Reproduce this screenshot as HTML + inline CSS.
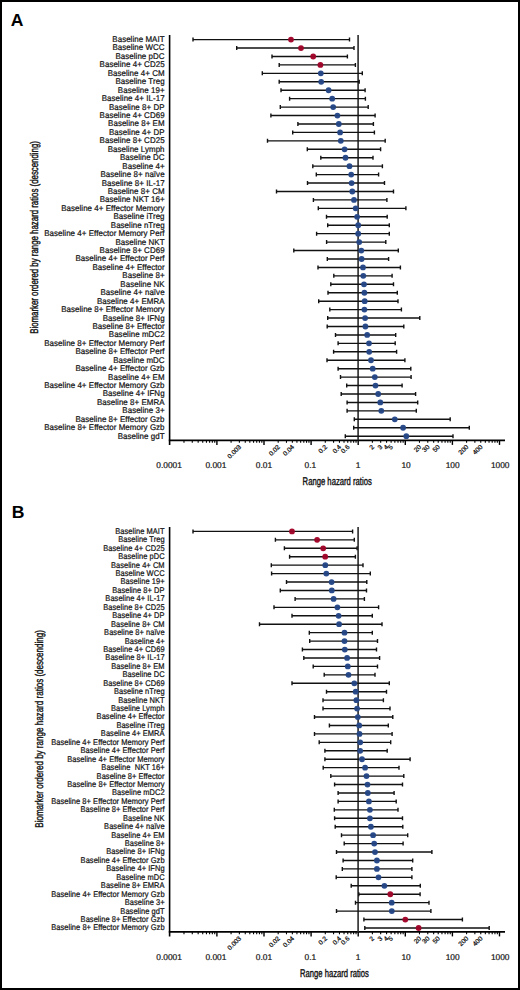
<!DOCTYPE html>
<html><head><meta charset="utf-8"><style>
html,body{margin:0;padding:0;background:#fff;}
body{width:520px;height:990px;position:relative;overflow:hidden;}
#frame{position:absolute;left:0;top:0;width:520px;height:990px;box-sizing:border-box;border:2px solid #000;}
svg{position:absolute;left:0;top:0;}
text{font-family:"Liberation Sans",sans-serif;fill:#1a1a1a;text-rendering:geometricPrecision;}
.lt{font-weight:bold;font-size:17.6px;fill:#000;}
.lb{text-anchor:end;fill:#111;stroke:#111;stroke-width:0.22px;}
.dl{font-size:8.4px;text-anchor:middle;fill:#111;stroke:#111;stroke-width:0.2px;}
.ml{font-size:6.5px;text-anchor:end;fill:#111;stroke:#111;stroke-width:0.25px;}
.tt{font-size:11.2px;fill:#111;stroke:#111;stroke-width:0.4px;}
.ax{stroke:#000;fill:none;}
.wk{stroke:#111;stroke-width:1.4;fill:none;}
</style></head><body>
<div id="frame"></div>
<svg width="520" height="990" viewBox="0 0 520 990">
<text x="10.8" y="26.2" class="lt">A</text>
<g transform="translate(164.6,0) scale(0.955,1)" style="font-size:8.3px;letter-spacing:0.06px">
<text x="0" y="42.05" class="lb">Baseline MAIT</text>
<text x="0" y="50.49" class="lb">Baseline WCC</text>
<text x="0" y="58.93" class="lb">Baseline pDC</text>
<text x="0" y="67.36" class="lb">Baseline 4+ CD25</text>
<text x="0" y="75.80" class="lb">Baseline 4+ CM</text>
<text x="0" y="84.24" class="lb">Baseline Treg</text>
<text x="0" y="92.68" class="lb">Baseline 19+</text>
<text x="0" y="101.12" class="lb">Baseline 4+ IL-17</text>
<text x="0" y="109.55" class="lb">Baseline 8+ DP</text>
<text x="0" y="117.99" class="lb">Baseline 4+ CD69</text>
<text x="0" y="126.43" class="lb">Baseline 8+ EM</text>
<text x="0" y="134.87" class="lb">Baseline 4+ DP</text>
<text x="0" y="143.31" class="lb">Baseline 8+ CD25</text>
<text x="0" y="151.74" class="lb">Baseline Lymph</text>
<text x="0" y="160.18" class="lb">Baseline DC</text>
<text x="0" y="168.62" class="lb">Baseline 4+</text>
<text x="0" y="177.06" class="lb">Baseline 8+ naïve</text>
<text x="0" y="185.50" class="lb">Baseline 8+ IL-17</text>
<text x="0" y="193.93" class="lb">Baseline 8+ CM</text>
<text x="0" y="202.37" class="lb">Baseline NKT 16+</text>
<text x="0" y="210.81" class="lb">Baseline 4+ Effector Memory</text>
<text x="0" y="219.25" class="lb">Baseline iTreg</text>
<text x="0" y="227.69" class="lb">Baseline nTreg</text>
<text x="0" y="236.12" class="lb">Baseline 4+ Effector Memory Perf</text>
<text x="0" y="244.56" class="lb">Baseline NKT</text>
<text x="0" y="253.00" class="lb">Baseline 8+ CD69</text>
<text x="0" y="261.44" class="lb">Baseline 4+ Effector Perf</text>
<text x="0" y="269.88" class="lb">Baseline 4+ Effector</text>
<text x="0" y="278.31" class="lb">Baseline 8+</text>
<text x="0" y="286.75" class="lb">Baseline NK</text>
<text x="0" y="295.19" class="lb">Baseline 4+ naïve</text>
<text x="0" y="303.63" class="lb">Baseline 4+ EMRA</text>
<text x="0" y="312.07" class="lb">Baseline 8+ Effector Memory</text>
<text x="0" y="320.50" class="lb">Baseline 8+ IFNg</text>
<text x="0" y="328.94" class="lb">Baseline 8+ Effector</text>
<text x="0" y="337.38" class="lb">Baseline mDC2</text>
<text x="0" y="345.82" class="lb">Baseline 8+ Effector Memory Perf</text>
<text x="0" y="354.26" class="lb">Baseline 8+ Effector Perf</text>
<text x="0" y="362.69" class="lb">Baseline mDC</text>
<text x="0" y="371.13" class="lb">Baseline 4+ Effector Gzb</text>
<text x="0" y="379.57" class="lb">Baseline 4+ EM</text>
<text x="0" y="388.01" class="lb">Baseline 4+ Effector Memory Gzb</text>
<text x="0" y="396.45" class="lb">Baseline 4+ IFNg</text>
<text x="0" y="404.88" class="lb">Baseline 8+ EMRA</text>
<text x="0" y="413.32" class="lb">Baseline 3+</text>
<text x="0" y="421.76" class="lb">Baseline 8+ Effector Gzb</text>
<text x="0" y="430.20" class="lb">Baseline 8+ Effector Memory Gzb</text>
<text x="0" y="438.64" class="lb">Baseline gdT</text>
</g>
<line x1="169.6" y1="35.0" x2="169.6" y2="444.9" class="ax" style="stroke-width:1.6"/>
<line x1="168.8" y1="440.4" x2="505" y2="440.4" class="ax" style="stroke-width:1.8"/>
<line x1="358.1" y1="35.0" x2="358.1" y2="440.4" class="ax" style="stroke-width:1.6;stroke:#2a2a2a"/>
<line x1="183.98" y1="440.4" x2="183.98" y2="442.79999999999995" class="ax" style="stroke-width:1.1"/>
<line x1="192.27" y1="440.4" x2="192.27" y2="442.79999999999995" class="ax" style="stroke-width:1.1"/>
<line x1="198.16" y1="440.4" x2="198.16" y2="442.79999999999995" class="ax" style="stroke-width:1.1"/>
<line x1="202.72" y1="440.4" x2="202.72" y2="442.79999999999995" class="ax" style="stroke-width:1.1"/>
<line x1="206.45" y1="440.4" x2="206.45" y2="442.79999999999995" class="ax" style="stroke-width:1.1"/>
<line x1="209.60" y1="440.4" x2="209.60" y2="442.79999999999995" class="ax" style="stroke-width:1.1"/>
<line x1="212.34" y1="440.4" x2="212.34" y2="442.79999999999995" class="ax" style="stroke-width:1.1"/>
<line x1="214.74" y1="440.4" x2="214.74" y2="442.79999999999995" class="ax" style="stroke-width:1.1"/>
<line x1="216.90" y1="440.4" x2="216.90" y2="444.9" class="ax" style="stroke-width:1.4"/>
<line x1="231.08" y1="440.4" x2="231.08" y2="442.79999999999995" class="ax" style="stroke-width:1.1"/>
<line x1="239.37" y1="440.4" x2="239.37" y2="442.79999999999995" class="ax" style="stroke-width:1.1"/>
<line x1="245.26" y1="440.4" x2="245.26" y2="442.79999999999995" class="ax" style="stroke-width:1.1"/>
<line x1="249.82" y1="440.4" x2="249.82" y2="442.79999999999995" class="ax" style="stroke-width:1.1"/>
<line x1="253.55" y1="440.4" x2="253.55" y2="442.79999999999995" class="ax" style="stroke-width:1.1"/>
<line x1="256.70" y1="440.4" x2="256.70" y2="442.79999999999995" class="ax" style="stroke-width:1.1"/>
<line x1="259.44" y1="440.4" x2="259.44" y2="442.79999999999995" class="ax" style="stroke-width:1.1"/>
<line x1="261.84" y1="440.4" x2="261.84" y2="442.79999999999995" class="ax" style="stroke-width:1.1"/>
<line x1="264.00" y1="440.4" x2="264.00" y2="444.9" class="ax" style="stroke-width:1.4"/>
<line x1="278.18" y1="440.4" x2="278.18" y2="442.79999999999995" class="ax" style="stroke-width:1.1"/>
<line x1="286.47" y1="440.4" x2="286.47" y2="442.79999999999995" class="ax" style="stroke-width:1.1"/>
<line x1="292.36" y1="440.4" x2="292.36" y2="442.79999999999995" class="ax" style="stroke-width:1.1"/>
<line x1="296.92" y1="440.4" x2="296.92" y2="442.79999999999995" class="ax" style="stroke-width:1.1"/>
<line x1="300.65" y1="440.4" x2="300.65" y2="442.79999999999995" class="ax" style="stroke-width:1.1"/>
<line x1="303.80" y1="440.4" x2="303.80" y2="442.79999999999995" class="ax" style="stroke-width:1.1"/>
<line x1="306.54" y1="440.4" x2="306.54" y2="442.79999999999995" class="ax" style="stroke-width:1.1"/>
<line x1="308.94" y1="440.4" x2="308.94" y2="442.79999999999995" class="ax" style="stroke-width:1.1"/>
<line x1="311.10" y1="440.4" x2="311.10" y2="444.9" class="ax" style="stroke-width:1.4"/>
<line x1="325.28" y1="440.4" x2="325.28" y2="442.79999999999995" class="ax" style="stroke-width:1.1"/>
<line x1="333.57" y1="440.4" x2="333.57" y2="442.79999999999995" class="ax" style="stroke-width:1.1"/>
<line x1="339.46" y1="440.4" x2="339.46" y2="442.79999999999995" class="ax" style="stroke-width:1.1"/>
<line x1="344.02" y1="440.4" x2="344.02" y2="442.79999999999995" class="ax" style="stroke-width:1.1"/>
<line x1="347.75" y1="440.4" x2="347.75" y2="442.79999999999995" class="ax" style="stroke-width:1.1"/>
<line x1="350.90" y1="440.4" x2="350.90" y2="442.79999999999995" class="ax" style="stroke-width:1.1"/>
<line x1="353.64" y1="440.4" x2="353.64" y2="442.79999999999995" class="ax" style="stroke-width:1.1"/>
<line x1="356.04" y1="440.4" x2="356.04" y2="442.79999999999995" class="ax" style="stroke-width:1.1"/>
<line x1="358.20" y1="440.4" x2="358.20" y2="444.9" class="ax" style="stroke-width:1.4"/>
<line x1="372.38" y1="440.4" x2="372.38" y2="442.79999999999995" class="ax" style="stroke-width:1.1"/>
<line x1="380.67" y1="440.4" x2="380.67" y2="442.79999999999995" class="ax" style="stroke-width:1.1"/>
<line x1="386.56" y1="440.4" x2="386.56" y2="442.79999999999995" class="ax" style="stroke-width:1.1"/>
<line x1="391.12" y1="440.4" x2="391.12" y2="442.79999999999995" class="ax" style="stroke-width:1.1"/>
<line x1="394.85" y1="440.4" x2="394.85" y2="442.79999999999995" class="ax" style="stroke-width:1.1"/>
<line x1="398.00" y1="440.4" x2="398.00" y2="442.79999999999995" class="ax" style="stroke-width:1.1"/>
<line x1="400.74" y1="440.4" x2="400.74" y2="442.79999999999995" class="ax" style="stroke-width:1.1"/>
<line x1="403.14" y1="440.4" x2="403.14" y2="442.79999999999995" class="ax" style="stroke-width:1.1"/>
<line x1="405.30" y1="440.4" x2="405.30" y2="444.9" class="ax" style="stroke-width:1.4"/>
<line x1="419.48" y1="440.4" x2="419.48" y2="442.79999999999995" class="ax" style="stroke-width:1.1"/>
<line x1="427.77" y1="440.4" x2="427.77" y2="442.79999999999995" class="ax" style="stroke-width:1.1"/>
<line x1="433.66" y1="440.4" x2="433.66" y2="442.79999999999995" class="ax" style="stroke-width:1.1"/>
<line x1="438.22" y1="440.4" x2="438.22" y2="442.79999999999995" class="ax" style="stroke-width:1.1"/>
<line x1="441.95" y1="440.4" x2="441.95" y2="442.79999999999995" class="ax" style="stroke-width:1.1"/>
<line x1="445.10" y1="440.4" x2="445.10" y2="442.79999999999995" class="ax" style="stroke-width:1.1"/>
<line x1="447.84" y1="440.4" x2="447.84" y2="442.79999999999995" class="ax" style="stroke-width:1.1"/>
<line x1="450.24" y1="440.4" x2="450.24" y2="442.79999999999995" class="ax" style="stroke-width:1.1"/>
<line x1="452.40" y1="440.4" x2="452.40" y2="444.9" class="ax" style="stroke-width:1.4"/>
<line x1="466.58" y1="440.4" x2="466.58" y2="442.79999999999995" class="ax" style="stroke-width:1.1"/>
<line x1="474.87" y1="440.4" x2="474.87" y2="442.79999999999995" class="ax" style="stroke-width:1.1"/>
<line x1="480.76" y1="440.4" x2="480.76" y2="442.79999999999995" class="ax" style="stroke-width:1.1"/>
<line x1="485.32" y1="440.4" x2="485.32" y2="442.79999999999995" class="ax" style="stroke-width:1.1"/>
<line x1="489.05" y1="440.4" x2="489.05" y2="442.79999999999995" class="ax" style="stroke-width:1.1"/>
<line x1="492.20" y1="440.4" x2="492.20" y2="442.79999999999995" class="ax" style="stroke-width:1.1"/>
<line x1="494.94" y1="440.4" x2="494.94" y2="442.79999999999995" class="ax" style="stroke-width:1.1"/>
<line x1="497.34" y1="440.4" x2="497.34" y2="442.79999999999995" class="ax" style="stroke-width:1.1"/>
<line x1="499.50" y1="440.4" x2="499.50" y2="444.9" class="ax" style="stroke-width:1.4"/>
<text x="169.10" y="468.30" class="dl">0.0001</text>
<text x="215.90" y="468.30" class="dl">0.001</text>
<text x="263.90" y="468.30" class="dl">0.01</text>
<text x="310.30" y="468.30" class="dl">0.1</text>
<text x="358.10" y="468.30" class="dl">1</text>
<text x="406.10" y="468.30" class="dl">10</text>
<text x="452.70" y="468.30" class="dl">100</text>
<text x="500.20" y="468.30" class="dl">1000</text>
<text transform="translate(241.57,447.40) rotate(-45)" class="ml">0.003</text>
<text transform="translate(280.38,447.40) rotate(-45)" class="ml">0.02</text>
<text transform="translate(294.56,447.40) rotate(-45)" class="ml">0.04</text>
<text transform="translate(327.48,447.40) rotate(-45)" class="ml">0.2</text>
<text transform="translate(341.66,447.40) rotate(-45)" class="ml">0.4</text>
<text transform="translate(349.95,447.40) rotate(-45)" class="ml">0.6</text>
<text transform="translate(374.58,447.40) rotate(-45)" class="ml">2</text>
<text transform="translate(382.87,447.40) rotate(-45)" class="ml">3</text>
<text transform="translate(388.76,447.40) rotate(-45)" class="ml">4</text>
<text transform="translate(393.32,447.40) rotate(-45)" class="ml">5</text>
<text transform="translate(421.68,447.40) rotate(-45)" class="ml">20</text>
<text transform="translate(429.97,447.40) rotate(-45)" class="ml">30</text>
<text transform="translate(440.42,447.40) rotate(-45)" class="ml">50</text>
<text transform="translate(468.78,447.40) rotate(-45)" class="ml">200</text>
<text transform="translate(482.96,447.40) rotate(-45)" class="ml">400</text>
<text x="302.6" y="484.5" class="tt" textLength="69.2" lengthAdjust="spacingAndGlyphs">Range hazard ratios</text>
<text transform="translate(37.5,333.8) rotate(-90)" class="tt" textLength="192.70000000000002" lengthAdjust="spacingAndGlyphs">Biomarker ordered by range hazard ratios (descending)</text>
<path d="M193.0 39.60H349.5M193.0 37.60V41.60M349.5 37.60V41.60" class="wk"/>
<path d="M236.7 48.04H354.0M236.7 46.04V50.04M354.0 46.04V50.04" class="wk"/>
<path d="M272.0 56.48H347.4M272.0 54.48V58.48M347.4 54.48V58.48" class="wk"/>
<path d="M279.2 64.91H355.4M279.2 62.91V66.91M355.4 62.91V66.91" class="wk"/>
<path d="M262.3 73.35H362.3M262.3 71.35V75.35M362.3 71.35V75.35" class="wk"/>
<path d="M279.2 81.79H359.2M279.2 79.79V83.79M359.2 79.79V83.79" class="wk"/>
<path d="M281.0 90.23H365.1M281.0 88.23V92.23M365.1 88.23V92.23" class="wk"/>
<path d="M289.6 98.67H365.4M289.6 96.67V100.67M365.4 96.67V100.67" class="wk"/>
<path d="M280.3 107.10H368.2M280.3 105.10V109.10M368.2 105.10V109.10" class="wk"/>
<path d="M270.9 115.54H375.1M270.9 113.54V117.54M375.1 113.54V117.54" class="wk"/>
<path d="M297.9 123.98H373.4M297.9 121.98V125.98M373.4 121.98V125.98" class="wk"/>
<path d="M292.7 132.42H374.4M292.7 130.42V134.42M374.4 130.42V134.42" class="wk"/>
<path d="M267.5 140.86H385.2M267.5 138.86V142.86M385.2 138.86V142.86" class="wk"/>
<path d="M307.3 149.29H380.6M307.3 147.29V151.29M380.6 147.29V151.29" class="wk"/>
<path d="M320.8 157.73H373.0M320.8 155.73V159.73M373.0 155.73V159.73" class="wk"/>
<path d="M312.8 166.17H382.4M312.8 164.17V168.17M382.4 164.17V168.17" class="wk"/>
<path d="M316.3 174.61H378.6M316.3 172.61V176.61M378.6 172.61V176.61" class="wk"/>
<path d="M307.5 183.05H384.5M307.5 181.05V185.05M384.5 181.05V185.05" class="wk"/>
<path d="M276.5 191.48H393.5M276.5 189.48V193.48M393.5 189.48V193.48" class="wk"/>
<path d="M313.4 199.92H386.9M313.4 197.92V201.92M386.9 197.92V201.92" class="wk"/>
<path d="M318.3 208.36H405.9M318.3 206.36V210.36M405.9 206.36V210.36" class="wk"/>
<path d="M326.5 216.80H387.2M326.5 214.80V218.80M387.2 214.80V218.80" class="wk"/>
<path d="M327.7 225.24H389.3M327.7 223.24V227.24M389.3 223.24V227.24" class="wk"/>
<path d="M316.6 233.67H389.3M316.6 231.67V235.67M389.3 231.67V235.67" class="wk"/>
<path d="M326.6 242.11H385.8M326.6 240.11V244.11M385.8 240.11V244.11" class="wk"/>
<path d="M293.8 250.55H398.3M293.8 248.55V252.55M398.3 248.55V252.55" class="wk"/>
<path d="M327.3 258.99H388.6M327.3 256.99V260.99M388.6 256.99V260.99" class="wk"/>
<path d="M318.0 267.43H400.4M318.0 265.43V269.43M400.4 265.43V269.43" class="wk"/>
<path d="M333.8 275.86H392.1M333.8 273.86V277.86M392.1 273.86V277.86" class="wk"/>
<path d="M330.8 284.30H393.5M330.8 282.30V286.30M393.5 282.30V286.30" class="wk"/>
<path d="M328.0 292.74H397.3M328.0 290.74V294.74M397.3 290.74V294.74" class="wk"/>
<path d="M318.7 301.18H398.0M318.7 299.18V303.18M398.0 299.18V303.18" class="wk"/>
<path d="M329.8 309.62H401.4M329.8 307.62V311.62M401.4 307.62V311.62" class="wk"/>
<path d="M327.7 318.05H419.8M327.7 316.05V320.05M419.8 316.05V320.05" class="wk"/>
<path d="M327.2 326.49H403.8M327.2 324.49V328.49M403.8 324.49V328.49" class="wk"/>
<path d="M335.5 334.93H395.7M335.5 332.93V336.93M395.7 332.93V336.93" class="wk"/>
<path d="M338.1 343.37H395.2M338.1 341.37V345.37M395.2 341.37V345.37" class="wk"/>
<path d="M333.6 351.81H396.6M333.6 349.81V353.81M396.6 349.81V353.81" class="wk"/>
<path d="M327.0 360.24H404.9M327.0 358.24V362.24M404.9 358.24V362.24" class="wk"/>
<path d="M338.1 368.68H410.8M338.1 366.68V370.68M410.8 366.68V370.68" class="wk"/>
<path d="M340.5 377.12H411.1M340.5 375.12V379.12M411.1 375.12V379.12" class="wk"/>
<path d="M346.7 385.56H402.1M346.7 383.56V387.56M402.1 383.56V387.56" class="wk"/>
<path d="M341.2 394.00H415.6M341.2 392.00V396.00M415.6 392.00V396.00" class="wk"/>
<path d="M347.1 402.43H417.7M347.1 400.43V404.43M417.7 400.43V404.43" class="wk"/>
<path d="M347.1 410.87H416.3M347.1 408.87V412.87M416.3 408.87V412.87" class="wk"/>
<path d="M354.3 419.31H450.2M354.3 417.31V421.31M450.2 417.31V421.31" class="wk"/>
<path d="M353.7 427.75H469.3M353.7 425.75V429.75M469.3 425.75V429.75" class="wk"/>
<path d="M345.3 436.19H453.0M345.3 434.19V438.19M453.0 434.19V438.19" class="wk"/>
<circle cx="291.0" cy="39.60" r="2.9" fill="#a60a2e"/>
<path d="M288.1 39.60H293.9" stroke="#000" stroke-opacity="0.13" stroke-width="1.2"/>
<circle cx="301.0" cy="48.04" r="2.9" fill="#a60a2e"/>
<path d="M298.1 48.04H303.9" stroke="#000" stroke-opacity="0.13" stroke-width="1.2"/>
<circle cx="313.2" cy="56.48" r="2.9" fill="#a60a2e"/>
<path d="M310.3 56.48H316.1" stroke="#000" stroke-opacity="0.13" stroke-width="1.2"/>
<circle cx="320.4" cy="64.91" r="2.9" fill="#a60a2e"/>
<path d="M317.5 64.91H323.3" stroke="#000" stroke-opacity="0.13" stroke-width="1.2"/>
<circle cx="320.8" cy="73.35" r="2.9" fill="#2a4c8c"/>
<path d="M317.9 73.35H323.7" stroke="#000" stroke-opacity="0.13" stroke-width="1.2"/>
<circle cx="321.2" cy="81.79" r="2.9" fill="#2a4c8c"/>
<path d="M318.3 81.79H324.1" stroke="#000" stroke-opacity="0.13" stroke-width="1.2"/>
<circle cx="328.6" cy="90.23" r="2.9" fill="#2a4c8c"/>
<path d="M325.7 90.23H331.5" stroke="#000" stroke-opacity="0.13" stroke-width="1.2"/>
<circle cx="332.2" cy="98.67" r="2.9" fill="#2a4c8c"/>
<path d="M329.3 98.67H335.1" stroke="#000" stroke-opacity="0.13" stroke-width="1.2"/>
<circle cx="333.2" cy="107.10" r="2.9" fill="#2a4c8c"/>
<path d="M330.3 107.10H336.1" stroke="#000" stroke-opacity="0.13" stroke-width="1.2"/>
<circle cx="337.4" cy="115.54" r="2.9" fill="#2a4c8c"/>
<path d="M334.5 115.54H340.3" stroke="#000" stroke-opacity="0.13" stroke-width="1.2"/>
<circle cx="338.8" cy="123.98" r="2.9" fill="#2a4c8c"/>
<path d="M335.9 123.98H341.7" stroke="#000" stroke-opacity="0.13" stroke-width="1.2"/>
<circle cx="340.1" cy="132.42" r="2.9" fill="#2a4c8c"/>
<path d="M337.2 132.42H343.0" stroke="#000" stroke-opacity="0.13" stroke-width="1.2"/>
<circle cx="340.8" cy="140.86" r="2.9" fill="#2a4c8c"/>
<path d="M337.9 140.86H343.7" stroke="#000" stroke-opacity="0.13" stroke-width="1.2"/>
<circle cx="344.6" cy="149.29" r="2.9" fill="#2a4c8c"/>
<path d="M341.7 149.29H347.5" stroke="#000" stroke-opacity="0.13" stroke-width="1.2"/>
<circle cx="345.5" cy="157.73" r="2.9" fill="#2a4c8c"/>
<path d="M342.6 157.73H348.4" stroke="#000" stroke-opacity="0.13" stroke-width="1.2"/>
<circle cx="349.5" cy="166.17" r="2.9" fill="#2a4c8c"/>
<path d="M346.6 166.17H352.4" stroke="#000" stroke-opacity="0.13" stroke-width="1.2"/>
<circle cx="351.2" cy="174.61" r="2.9" fill="#2a4c8c"/>
<path d="M348.3 174.61H354.1" stroke="#000" stroke-opacity="0.13" stroke-width="1.2"/>
<circle cx="351.6" cy="183.05" r="2.9" fill="#2a4c8c"/>
<path d="M348.7 183.05H354.5" stroke="#000" stroke-opacity="0.13" stroke-width="1.2"/>
<circle cx="352.3" cy="191.48" r="2.9" fill="#2a4c8c"/>
<path d="M349.4 191.48H355.2" stroke="#000" stroke-opacity="0.13" stroke-width="1.2"/>
<circle cx="354.0" cy="199.92" r="2.9" fill="#2a4c8c"/>
<path d="M351.1 199.92H356.9" stroke="#000" stroke-opacity="0.13" stroke-width="1.2"/>
<circle cx="355.7" cy="208.36" r="2.9" fill="#2a4c8c"/>
<path d="M352.8 208.36H358.6" stroke="#000" stroke-opacity="0.13" stroke-width="1.2"/>
<circle cx="357.1" cy="216.80" r="2.9" fill="#2a4c8c"/>
<path d="M354.2 216.80H360.0" stroke="#000" stroke-opacity="0.13" stroke-width="1.2"/>
<circle cx="358.2" cy="225.24" r="2.9" fill="#2a4c8c"/>
<path d="M355.3 225.24H361.1" stroke="#000" stroke-opacity="0.13" stroke-width="1.2"/>
<circle cx="358.2" cy="233.67" r="2.9" fill="#2a4c8c"/>
<path d="M355.3 233.67H361.1" stroke="#000" stroke-opacity="0.13" stroke-width="1.2"/>
<circle cx="359.2" cy="242.11" r="2.9" fill="#2a4c8c"/>
<path d="M356.3 242.11H362.1" stroke="#000" stroke-opacity="0.13" stroke-width="1.2"/>
<circle cx="361.3" cy="250.55" r="2.9" fill="#2a4c8c"/>
<path d="M358.4 250.55H364.2" stroke="#000" stroke-opacity="0.13" stroke-width="1.2"/>
<circle cx="361.6" cy="258.99" r="2.9" fill="#2a4c8c"/>
<path d="M358.7 258.99H364.5" stroke="#000" stroke-opacity="0.13" stroke-width="1.2"/>
<circle cx="363.0" cy="267.43" r="2.9" fill="#2a4c8c"/>
<path d="M360.1 267.43H365.9" stroke="#000" stroke-opacity="0.13" stroke-width="1.2"/>
<circle cx="363.3" cy="275.86" r="2.9" fill="#2a4c8c"/>
<path d="M360.4 275.86H366.2" stroke="#000" stroke-opacity="0.13" stroke-width="1.2"/>
<circle cx="364.0" cy="284.30" r="2.9" fill="#2a4c8c"/>
<path d="M361.1 284.30H366.9" stroke="#000" stroke-opacity="0.13" stroke-width="1.2"/>
<circle cx="364.4" cy="292.74" r="2.9" fill="#2a4c8c"/>
<path d="M361.5 292.74H367.3" stroke="#000" stroke-opacity="0.13" stroke-width="1.2"/>
<circle cx="364.7" cy="301.18" r="2.9" fill="#2a4c8c"/>
<path d="M361.8 301.18H367.6" stroke="#000" stroke-opacity="0.13" stroke-width="1.2"/>
<circle cx="364.4" cy="309.62" r="2.9" fill="#2a4c8c"/>
<path d="M361.5 309.62H367.3" stroke="#000" stroke-opacity="0.13" stroke-width="1.2"/>
<circle cx="365.1" cy="318.05" r="2.9" fill="#2a4c8c"/>
<path d="M362.2 318.05H368.0" stroke="#000" stroke-opacity="0.13" stroke-width="1.2"/>
<circle cx="365.4" cy="326.49" r="2.9" fill="#2a4c8c"/>
<path d="M362.5 326.49H368.3" stroke="#000" stroke-opacity="0.13" stroke-width="1.2"/>
<circle cx="367.2" cy="334.93" r="2.9" fill="#2a4c8c"/>
<path d="M364.3 334.93H370.1" stroke="#000" stroke-opacity="0.13" stroke-width="1.2"/>
<circle cx="369.0" cy="343.37" r="2.9" fill="#2a4c8c"/>
<path d="M366.1 343.37H371.9" stroke="#000" stroke-opacity="0.13" stroke-width="1.2"/>
<circle cx="369.2" cy="351.81" r="2.9" fill="#2a4c8c"/>
<path d="M366.3 351.81H372.1" stroke="#000" stroke-opacity="0.13" stroke-width="1.2"/>
<circle cx="371.0" cy="360.24" r="2.9" fill="#2a4c8c"/>
<path d="M368.1 360.24H373.9" stroke="#000" stroke-opacity="0.13" stroke-width="1.2"/>
<circle cx="372.7" cy="368.68" r="2.9" fill="#2a4c8c"/>
<path d="M369.8 368.68H375.6" stroke="#000" stroke-opacity="0.13" stroke-width="1.2"/>
<circle cx="374.8" cy="377.12" r="2.9" fill="#2a4c8c"/>
<path d="M371.9 377.12H377.7" stroke="#000" stroke-opacity="0.13" stroke-width="1.2"/>
<circle cx="375.5" cy="385.56" r="2.9" fill="#2a4c8c"/>
<path d="M372.6 385.56H378.4" stroke="#000" stroke-opacity="0.13" stroke-width="1.2"/>
<circle cx="378.2" cy="394.00" r="2.9" fill="#2a4c8c"/>
<path d="M375.3 394.00H381.1" stroke="#000" stroke-opacity="0.13" stroke-width="1.2"/>
<circle cx="380.3" cy="402.43" r="2.9" fill="#2a4c8c"/>
<path d="M377.4 402.43H383.2" stroke="#000" stroke-opacity="0.13" stroke-width="1.2"/>
<circle cx="381.3" cy="410.87" r="2.9" fill="#2a4c8c"/>
<path d="M378.4 410.87H384.2" stroke="#000" stroke-opacity="0.13" stroke-width="1.2"/>
<circle cx="394.8" cy="419.31" r="2.9" fill="#2a4c8c"/>
<path d="M391.9 419.31H397.7" stroke="#000" stroke-opacity="0.13" stroke-width="1.2"/>
<circle cx="403.1" cy="427.75" r="2.9" fill="#2a4c8c"/>
<path d="M400.2 427.75H406.0" stroke="#000" stroke-opacity="0.13" stroke-width="1.2"/>
<circle cx="406.3" cy="436.19" r="2.9" fill="#2a4c8c"/>
<path d="M403.4 436.19H409.2" stroke="#000" stroke-opacity="0.13" stroke-width="1.2"/>
<text x="11.8" y="517.7" class="lt">B</text>
<g transform="translate(164.6,0) scale(0.9,1)" style="font-size:8.3px;letter-spacing:0.06px">
<text x="0" y="533.85" class="lb">Baseline MAIT</text>
<text x="0" y="542.29" class="lb">Baseline Treg</text>
<text x="0" y="550.73" class="lb">Baseline 4+ CD25</text>
<text x="0" y="559.16" class="lb">Baseline pDC</text>
<text x="0" y="567.60" class="lb">Baseline 4+ CM</text>
<text x="0" y="576.04" class="lb">Baseline WCC</text>
<text x="0" y="584.48" class="lb">Baseline 19+</text>
<text x="0" y="592.92" class="lb">Baseline 8+ DP</text>
<text x="0" y="601.35" class="lb">Baseline 4+ IL-17</text>
<text x="0" y="609.79" class="lb">Baseline 8+ CD25</text>
<text x="0" y="618.23" class="lb">Baseline 4+ DP</text>
<text x="0" y="626.67" class="lb">Baseline 8+ CM</text>
<text x="0" y="635.11" class="lb">Baseline 8+ naïve</text>
<text x="0" y="643.54" class="lb">Baseline 4+</text>
<text x="0" y="651.98" class="lb">Baseline 4+ CD69</text>
<text x="0" y="660.42" class="lb">Baseline 8+ IL-17</text>
<text x="0" y="668.86" class="lb">Baseline 8+ EM</text>
<text x="0" y="677.30" class="lb">Baseline DC</text>
<text x="0" y="685.73" class="lb">Baseline 8+ CD69</text>
<text x="0" y="694.17" class="lb">Baseline nTreg</text>
<text x="0" y="702.61" class="lb">Baseline NKT</text>
<text x="0" y="711.05" class="lb">Baseline Lymph</text>
<text x="0" y="719.49" class="lb">Baseline 4+ Effector</text>
<text x="0" y="727.92" class="lb">Baseline iTreg</text>
<text x="0" y="736.36" class="lb">Baseline 4+ EMRA</text>
<text x="0" y="744.80" class="lb">Baseline 4+ Effector Memory Perf</text>
<text x="0" y="753.24" class="lb">Baseline 4+ Effector Perf</text>
<text x="0" y="761.68" class="lb">Baseline 4+ Effector Memory</text>
<text x="0" y="770.11" class="lb">Baseline  NKT 16+</text>
<text x="0" y="778.55" class="lb">Baseline 8+ Effector</text>
<text x="0" y="786.99" class="lb">Baseline 8+ Effector Memory</text>
<text x="0" y="795.43" class="lb">Baseline mDC2</text>
<text x="0" y="803.87" class="lb">Baseline 8+ Effector Memory Perf</text>
<text x="0" y="812.30" class="lb">Baseline 8+ Effector Perf</text>
<text x="0" y="820.74" class="lb">Baseline NK</text>
<text x="0" y="829.18" class="lb">Baseline 4+ naïve</text>
<text x="0" y="837.62" class="lb">Baseline 4+ EM</text>
<text x="0" y="846.06" class="lb">Baseline 8+</text>
<text x="0" y="854.49" class="lb">Baseline 8+ IFNg</text>
<text x="0" y="862.93" class="lb">Baseline 4+ Effector Gzb</text>
<text x="0" y="871.37" class="lb">Baseline 4+ IFNg</text>
<text x="0" y="879.81" class="lb">Baseline mDC</text>
<text x="0" y="888.25" class="lb">Baseline 8+ EMRA</text>
<text x="0" y="896.68" class="lb">Baseline 4+ Effector Memory Gzb</text>
<text x="0" y="905.12" class="lb">Baseline 3+</text>
<text x="0" y="913.56" class="lb">Baseline gdT</text>
<text x="0" y="922.00" class="lb">Baseline 8+ Effector Gzb</text>
<text x="0" y="930.44" class="lb">Baseline 8+ Effector Memory Gzb</text>
</g>
<line x1="169.6" y1="526.9" x2="169.6" y2="936.4" class="ax" style="stroke-width:1.6"/>
<line x1="168.8" y1="931.9" x2="505" y2="931.9" class="ax" style="stroke-width:1.8"/>
<line x1="358.1" y1="526.9" x2="358.1" y2="931.9" class="ax" style="stroke-width:1.6;stroke:#2a2a2a"/>
<line x1="183.98" y1="931.9" x2="183.98" y2="934.3" class="ax" style="stroke-width:1.1"/>
<line x1="192.27" y1="931.9" x2="192.27" y2="934.3" class="ax" style="stroke-width:1.1"/>
<line x1="198.16" y1="931.9" x2="198.16" y2="934.3" class="ax" style="stroke-width:1.1"/>
<line x1="202.72" y1="931.9" x2="202.72" y2="934.3" class="ax" style="stroke-width:1.1"/>
<line x1="206.45" y1="931.9" x2="206.45" y2="934.3" class="ax" style="stroke-width:1.1"/>
<line x1="209.60" y1="931.9" x2="209.60" y2="934.3" class="ax" style="stroke-width:1.1"/>
<line x1="212.34" y1="931.9" x2="212.34" y2="934.3" class="ax" style="stroke-width:1.1"/>
<line x1="214.74" y1="931.9" x2="214.74" y2="934.3" class="ax" style="stroke-width:1.1"/>
<line x1="216.90" y1="931.9" x2="216.90" y2="936.4" class="ax" style="stroke-width:1.4"/>
<line x1="231.08" y1="931.9" x2="231.08" y2="934.3" class="ax" style="stroke-width:1.1"/>
<line x1="239.37" y1="931.9" x2="239.37" y2="934.3" class="ax" style="stroke-width:1.1"/>
<line x1="245.26" y1="931.9" x2="245.26" y2="934.3" class="ax" style="stroke-width:1.1"/>
<line x1="249.82" y1="931.9" x2="249.82" y2="934.3" class="ax" style="stroke-width:1.1"/>
<line x1="253.55" y1="931.9" x2="253.55" y2="934.3" class="ax" style="stroke-width:1.1"/>
<line x1="256.70" y1="931.9" x2="256.70" y2="934.3" class="ax" style="stroke-width:1.1"/>
<line x1="259.44" y1="931.9" x2="259.44" y2="934.3" class="ax" style="stroke-width:1.1"/>
<line x1="261.84" y1="931.9" x2="261.84" y2="934.3" class="ax" style="stroke-width:1.1"/>
<line x1="264.00" y1="931.9" x2="264.00" y2="936.4" class="ax" style="stroke-width:1.4"/>
<line x1="278.18" y1="931.9" x2="278.18" y2="934.3" class="ax" style="stroke-width:1.1"/>
<line x1="286.47" y1="931.9" x2="286.47" y2="934.3" class="ax" style="stroke-width:1.1"/>
<line x1="292.36" y1="931.9" x2="292.36" y2="934.3" class="ax" style="stroke-width:1.1"/>
<line x1="296.92" y1="931.9" x2="296.92" y2="934.3" class="ax" style="stroke-width:1.1"/>
<line x1="300.65" y1="931.9" x2="300.65" y2="934.3" class="ax" style="stroke-width:1.1"/>
<line x1="303.80" y1="931.9" x2="303.80" y2="934.3" class="ax" style="stroke-width:1.1"/>
<line x1="306.54" y1="931.9" x2="306.54" y2="934.3" class="ax" style="stroke-width:1.1"/>
<line x1="308.94" y1="931.9" x2="308.94" y2="934.3" class="ax" style="stroke-width:1.1"/>
<line x1="311.10" y1="931.9" x2="311.10" y2="936.4" class="ax" style="stroke-width:1.4"/>
<line x1="325.28" y1="931.9" x2="325.28" y2="934.3" class="ax" style="stroke-width:1.1"/>
<line x1="333.57" y1="931.9" x2="333.57" y2="934.3" class="ax" style="stroke-width:1.1"/>
<line x1="339.46" y1="931.9" x2="339.46" y2="934.3" class="ax" style="stroke-width:1.1"/>
<line x1="344.02" y1="931.9" x2="344.02" y2="934.3" class="ax" style="stroke-width:1.1"/>
<line x1="347.75" y1="931.9" x2="347.75" y2="934.3" class="ax" style="stroke-width:1.1"/>
<line x1="350.90" y1="931.9" x2="350.90" y2="934.3" class="ax" style="stroke-width:1.1"/>
<line x1="353.64" y1="931.9" x2="353.64" y2="934.3" class="ax" style="stroke-width:1.1"/>
<line x1="356.04" y1="931.9" x2="356.04" y2="934.3" class="ax" style="stroke-width:1.1"/>
<line x1="358.20" y1="931.9" x2="358.20" y2="936.4" class="ax" style="stroke-width:1.4"/>
<line x1="372.38" y1="931.9" x2="372.38" y2="934.3" class="ax" style="stroke-width:1.1"/>
<line x1="380.67" y1="931.9" x2="380.67" y2="934.3" class="ax" style="stroke-width:1.1"/>
<line x1="386.56" y1="931.9" x2="386.56" y2="934.3" class="ax" style="stroke-width:1.1"/>
<line x1="391.12" y1="931.9" x2="391.12" y2="934.3" class="ax" style="stroke-width:1.1"/>
<line x1="394.85" y1="931.9" x2="394.85" y2="934.3" class="ax" style="stroke-width:1.1"/>
<line x1="398.00" y1="931.9" x2="398.00" y2="934.3" class="ax" style="stroke-width:1.1"/>
<line x1="400.74" y1="931.9" x2="400.74" y2="934.3" class="ax" style="stroke-width:1.1"/>
<line x1="403.14" y1="931.9" x2="403.14" y2="934.3" class="ax" style="stroke-width:1.1"/>
<line x1="405.30" y1="931.9" x2="405.30" y2="936.4" class="ax" style="stroke-width:1.4"/>
<line x1="419.48" y1="931.9" x2="419.48" y2="934.3" class="ax" style="stroke-width:1.1"/>
<line x1="427.77" y1="931.9" x2="427.77" y2="934.3" class="ax" style="stroke-width:1.1"/>
<line x1="433.66" y1="931.9" x2="433.66" y2="934.3" class="ax" style="stroke-width:1.1"/>
<line x1="438.22" y1="931.9" x2="438.22" y2="934.3" class="ax" style="stroke-width:1.1"/>
<line x1="441.95" y1="931.9" x2="441.95" y2="934.3" class="ax" style="stroke-width:1.1"/>
<line x1="445.10" y1="931.9" x2="445.10" y2="934.3" class="ax" style="stroke-width:1.1"/>
<line x1="447.84" y1="931.9" x2="447.84" y2="934.3" class="ax" style="stroke-width:1.1"/>
<line x1="450.24" y1="931.9" x2="450.24" y2="934.3" class="ax" style="stroke-width:1.1"/>
<line x1="452.40" y1="931.9" x2="452.40" y2="936.4" class="ax" style="stroke-width:1.4"/>
<line x1="466.58" y1="931.9" x2="466.58" y2="934.3" class="ax" style="stroke-width:1.1"/>
<line x1="474.87" y1="931.9" x2="474.87" y2="934.3" class="ax" style="stroke-width:1.1"/>
<line x1="480.76" y1="931.9" x2="480.76" y2="934.3" class="ax" style="stroke-width:1.1"/>
<line x1="485.32" y1="931.9" x2="485.32" y2="934.3" class="ax" style="stroke-width:1.1"/>
<line x1="489.05" y1="931.9" x2="489.05" y2="934.3" class="ax" style="stroke-width:1.1"/>
<line x1="492.20" y1="931.9" x2="492.20" y2="934.3" class="ax" style="stroke-width:1.1"/>
<line x1="494.94" y1="931.9" x2="494.94" y2="934.3" class="ax" style="stroke-width:1.1"/>
<line x1="497.34" y1="931.9" x2="497.34" y2="934.3" class="ax" style="stroke-width:1.1"/>
<line x1="499.50" y1="931.9" x2="499.50" y2="936.4" class="ax" style="stroke-width:1.4"/>
<text x="169.10" y="959.80" class="dl">0.0001</text>
<text x="215.90" y="959.80" class="dl">0.001</text>
<text x="263.90" y="959.80" class="dl">0.01</text>
<text x="310.30" y="959.80" class="dl">0.1</text>
<text x="358.10" y="959.80" class="dl">1</text>
<text x="406.10" y="959.80" class="dl">10</text>
<text x="452.70" y="959.80" class="dl">100</text>
<text x="500.20" y="959.80" class="dl">1000</text>
<text transform="translate(241.57,938.90) rotate(-45)" class="ml">0.003</text>
<text transform="translate(280.38,938.90) rotate(-45)" class="ml">0.02</text>
<text transform="translate(294.56,938.90) rotate(-45)" class="ml">0.04</text>
<text transform="translate(327.48,938.90) rotate(-45)" class="ml">0.2</text>
<text transform="translate(341.66,938.90) rotate(-45)" class="ml">0.4</text>
<text transform="translate(349.95,938.90) rotate(-45)" class="ml">0.6</text>
<text transform="translate(374.58,938.90) rotate(-45)" class="ml">2</text>
<text transform="translate(382.87,938.90) rotate(-45)" class="ml">3</text>
<text transform="translate(388.76,938.90) rotate(-45)" class="ml">4</text>
<text transform="translate(393.32,938.90) rotate(-45)" class="ml">5</text>
<text transform="translate(421.68,938.90) rotate(-45)" class="ml">20</text>
<text transform="translate(429.97,938.90) rotate(-45)" class="ml">30</text>
<text transform="translate(440.42,938.90) rotate(-45)" class="ml">50</text>
<text transform="translate(468.78,938.90) rotate(-45)" class="ml">200</text>
<text transform="translate(482.96,938.90) rotate(-45)" class="ml">400</text>
<text x="300.1" y="976.5" class="tt" textLength="68.7" lengthAdjust="spacingAndGlyphs">Range hazard ratios</text>
<text transform="translate(43.3,827.7) rotate(-90)" class="tt" textLength="197.60000000000002" lengthAdjust="spacingAndGlyphs">Biomarker ordered by range hazard ratios (descending)</text>
<path d="M193.0 531.40H352.6M193.0 529.40V533.40M352.6 529.40V533.40" class="wk"/>
<path d="M275.4 539.84H354.3M275.4 537.84V541.84M354.3 537.84V541.84" class="wk"/>
<path d="M284.4 548.28H357.1M284.4 546.28V550.28M357.1 546.28V550.28" class="wk"/>
<path d="M289.6 556.71H355.4M289.6 554.71V558.71M355.4 554.71V558.71" class="wk"/>
<path d="M271.3 565.15H363.0M271.3 563.15V567.15M363.0 563.15V567.15" class="wk"/>
<path d="M271.6 573.59H370.3M271.6 571.59V575.59M370.3 571.59V575.59" class="wk"/>
<path d="M286.5 582.03H366.8M286.5 580.03V584.03M366.8 580.03V584.03" class="wk"/>
<path d="M280.3 590.47H366.5M280.3 588.47V592.47M366.5 588.47V592.47" class="wk"/>
<path d="M295.1 598.90H364.4M295.1 596.90V600.90M364.4 596.90V600.90" class="wk"/>
<path d="M274.0 607.34H378.6M274.0 605.34V609.34M378.6 605.34V609.34" class="wk"/>
<path d="M292.0 615.78H372.3M292.0 613.78V617.78M372.3 613.78V617.78" class="wk"/>
<path d="M259.5 624.22H382.0M259.5 622.22V626.22M382.0 622.22V626.22" class="wk"/>
<path d="M309.3 632.66H372.3M309.3 630.66V634.66M372.3 630.66V634.66" class="wk"/>
<path d="M309.7 641.09H377.5M309.7 639.09V643.09M377.5 639.09V643.09" class="wk"/>
<path d="M302.4 649.53H376.5M302.4 647.53V651.53M376.5 647.53V651.53" class="wk"/>
<path d="M303.8 657.97H379.6M303.8 655.97V659.97M379.6 655.97V659.97" class="wk"/>
<path d="M313.2 666.41H377.5M313.2 664.41V668.41M377.5 664.41V668.41" class="wk"/>
<path d="M324.2 674.85H375.0M324.2 672.85V676.85M375.0 672.85V676.85" class="wk"/>
<path d="M292.0 683.28H389.3M292.0 681.28V685.28M389.3 681.28V685.28" class="wk"/>
<path d="M326.5 691.72H386.5M326.5 689.72V693.72M386.5 689.72V693.72" class="wk"/>
<path d="M323.0 700.16H383.4M323.0 698.16V702.16M383.4 698.16V702.16" class="wk"/>
<path d="M323.0 708.60H390.0M323.0 706.60V710.60M390.0 706.60V710.60" class="wk"/>
<path d="M314.5 717.04H392.8M314.5 715.04V719.04M392.8 715.04V719.04" class="wk"/>
<path d="M329.4 725.47H388.3M329.4 723.47V727.47M388.3 723.47V727.47" class="wk"/>
<path d="M314.5 733.91H392.1M314.5 731.91V735.91M392.1 731.91V735.91" class="wk"/>
<path d="M319.2 742.35H390.7M319.2 740.35V744.35M390.7 740.35V744.35" class="wk"/>
<path d="M324.9 750.79H387.2M324.9 748.79V752.79M387.2 748.79V752.79" class="wk"/>
<path d="M324.9 759.23H410.1M324.9 757.23V761.23M410.1 757.23V761.23" class="wk"/>
<path d="M323.2 767.66H399.0M323.2 765.66V769.66M399.0 765.66V769.66" class="wk"/>
<path d="M330.8 776.10H403.8M330.8 774.10V778.10M403.8 774.10V778.10" class="wk"/>
<path d="M334.6 784.54H402.5M334.6 782.54V786.54M402.5 782.54V786.54" class="wk"/>
<path d="M338.1 792.98H394.1M338.1 790.98V794.98M394.1 790.98V794.98" class="wk"/>
<path d="M338.1 801.42H396.2M338.1 799.42V803.42M396.2 799.42V803.42" class="wk"/>
<path d="M334.3 809.85H398.0M334.3 807.85V811.85M398.0 807.85V811.85" class="wk"/>
<path d="M334.6 818.29H402.5M334.6 816.29V820.29M402.5 816.29V820.29" class="wk"/>
<path d="M335.2 826.73H402.8M335.2 824.73V828.73M402.8 824.73V828.73" class="wk"/>
<path d="M341.5 835.17H407.7M341.5 833.17V837.17M407.7 833.17V837.17" class="wk"/>
<path d="M344.2 843.61H403.1M344.2 841.61V845.61M403.1 841.61V845.61" class="wk"/>
<path d="M336.5 852.04H431.9M336.5 850.04V854.04M431.9 850.04V854.04" class="wk"/>
<path d="M343.1 860.48H412.7M343.1 858.48V862.48M412.7 858.48V862.48" class="wk"/>
<path d="M342.3 868.92H411.9M342.3 866.92V870.92M411.9 866.92V870.92" class="wk"/>
<path d="M336.2 877.36H411.9M336.2 875.36V879.36M411.9 875.36V879.36" class="wk"/>
<path d="M351.2 885.80H420.3M351.2 883.80V887.80M420.3 883.80V887.80" class="wk"/>
<path d="M358.8 894.23H420.1M358.8 892.23V896.23M420.1 892.23V896.23" class="wk"/>
<path d="M355.5 902.67H429.0M355.5 900.67V904.67M429.0 900.67V904.67" class="wk"/>
<path d="M336.5 911.11H430.9M336.5 909.11V913.11M430.9 909.11V913.11" class="wk"/>
<path d="M363.9 919.55H462.4M363.9 917.55V921.55M462.4 917.55V921.55" class="wk"/>
<path d="M364.8 927.99H489.2M364.8 925.99V929.99M489.2 925.99V929.99" class="wk"/>
<circle cx="292.0" cy="531.40" r="2.9" fill="#a60a2e"/>
<path d="M289.1 531.40H294.9" stroke="#000" stroke-opacity="0.13" stroke-width="1.2"/>
<circle cx="317.1" cy="539.84" r="2.9" fill="#a60a2e"/>
<path d="M314.2 539.84H320.0" stroke="#000" stroke-opacity="0.13" stroke-width="1.2"/>
<circle cx="323.2" cy="548.28" r="2.9" fill="#a60a2e"/>
<path d="M320.3 548.28H326.1" stroke="#000" stroke-opacity="0.13" stroke-width="1.2"/>
<circle cx="325.2" cy="556.71" r="2.9" fill="#a60a2e"/>
<path d="M322.3 556.71H328.1" stroke="#000" stroke-opacity="0.13" stroke-width="1.2"/>
<circle cx="325.3" cy="565.15" r="2.9" fill="#2a4c8c"/>
<path d="M322.4 565.15H328.2" stroke="#000" stroke-opacity="0.13" stroke-width="1.2"/>
<circle cx="326.3" cy="573.59" r="2.9" fill="#2a4c8c"/>
<path d="M323.4 573.59H329.2" stroke="#000" stroke-opacity="0.13" stroke-width="1.2"/>
<circle cx="331.6" cy="582.03" r="2.9" fill="#2a4c8c"/>
<path d="M328.7 582.03H334.5" stroke="#000" stroke-opacity="0.13" stroke-width="1.2"/>
<circle cx="331.8" cy="590.47" r="2.9" fill="#2a4c8c"/>
<path d="M328.9 590.47H334.7" stroke="#000" stroke-opacity="0.13" stroke-width="1.2"/>
<circle cx="333.6" cy="598.90" r="2.9" fill="#2a4c8c"/>
<path d="M330.7 598.90H336.5" stroke="#000" stroke-opacity="0.13" stroke-width="1.2"/>
<circle cx="337.4" cy="607.34" r="2.9" fill="#2a4c8c"/>
<path d="M334.5 607.34H340.3" stroke="#000" stroke-opacity="0.13" stroke-width="1.2"/>
<circle cx="338.6" cy="615.78" r="2.9" fill="#2a4c8c"/>
<path d="M335.7 615.78H341.5" stroke="#000" stroke-opacity="0.13" stroke-width="1.2"/>
<circle cx="339.1" cy="624.22" r="2.9" fill="#2a4c8c"/>
<path d="M336.2 624.22H342.0" stroke="#000" stroke-opacity="0.13" stroke-width="1.2"/>
<circle cx="344.5" cy="632.66" r="2.9" fill="#2a4c8c"/>
<path d="M341.6 632.66H347.4" stroke="#000" stroke-opacity="0.13" stroke-width="1.2"/>
<circle cx="344.5" cy="641.09" r="2.9" fill="#2a4c8c"/>
<path d="M341.6 641.09H347.4" stroke="#000" stroke-opacity="0.13" stroke-width="1.2"/>
<circle cx="344.8" cy="649.53" r="2.9" fill="#2a4c8c"/>
<path d="M341.9 649.53H347.7" stroke="#000" stroke-opacity="0.13" stroke-width="1.2"/>
<circle cx="347.1" cy="657.97" r="2.9" fill="#2a4c8c"/>
<path d="M344.2 657.97H350.0" stroke="#000" stroke-opacity="0.13" stroke-width="1.2"/>
<circle cx="347.8" cy="666.41" r="2.9" fill="#2a4c8c"/>
<path d="M344.9 666.41H350.7" stroke="#000" stroke-opacity="0.13" stroke-width="1.2"/>
<circle cx="348.5" cy="674.85" r="2.9" fill="#2a4c8c"/>
<path d="M345.6 674.85H351.4" stroke="#000" stroke-opacity="0.13" stroke-width="1.2"/>
<circle cx="354.3" cy="683.28" r="2.9" fill="#2a4c8c"/>
<path d="M351.4 683.28H357.2" stroke="#000" stroke-opacity="0.13" stroke-width="1.2"/>
<circle cx="355.7" cy="691.72" r="2.9" fill="#2a4c8c"/>
<path d="M352.8 691.72H358.6" stroke="#000" stroke-opacity="0.13" stroke-width="1.2"/>
<circle cx="356.4" cy="700.16" r="2.9" fill="#2a4c8c"/>
<path d="M353.5 700.16H359.3" stroke="#000" stroke-opacity="0.13" stroke-width="1.2"/>
<circle cx="357.1" cy="708.60" r="2.9" fill="#2a4c8c"/>
<path d="M354.2 708.60H360.0" stroke="#000" stroke-opacity="0.13" stroke-width="1.2"/>
<circle cx="357.8" cy="717.04" r="2.9" fill="#2a4c8c"/>
<path d="M354.9 717.04H360.7" stroke="#000" stroke-opacity="0.13" stroke-width="1.2"/>
<circle cx="359.2" cy="725.47" r="2.9" fill="#2a4c8c"/>
<path d="M356.3 725.47H362.1" stroke="#000" stroke-opacity="0.13" stroke-width="1.2"/>
<circle cx="359.5" cy="733.91" r="2.9" fill="#2a4c8c"/>
<path d="M356.6 733.91H362.4" stroke="#000" stroke-opacity="0.13" stroke-width="1.2"/>
<circle cx="360.2" cy="742.35" r="2.9" fill="#2a4c8c"/>
<path d="M357.3 742.35H363.1" stroke="#000" stroke-opacity="0.13" stroke-width="1.2"/>
<circle cx="360.2" cy="750.79" r="2.9" fill="#2a4c8c"/>
<path d="M357.3 750.79H363.1" stroke="#000" stroke-opacity="0.13" stroke-width="1.2"/>
<circle cx="362.0" cy="759.23" r="2.9" fill="#2a4c8c"/>
<path d="M359.1 759.23H364.9" stroke="#000" stroke-opacity="0.13" stroke-width="1.2"/>
<circle cx="365.1" cy="767.66" r="2.9" fill="#2a4c8c"/>
<path d="M362.2 767.66H368.0" stroke="#000" stroke-opacity="0.13" stroke-width="1.2"/>
<circle cx="366.5" cy="776.10" r="2.9" fill="#2a4c8c"/>
<path d="M363.6 776.10H369.4" stroke="#000" stroke-opacity="0.13" stroke-width="1.2"/>
<circle cx="367.5" cy="784.54" r="2.9" fill="#2a4c8c"/>
<path d="M364.6 784.54H370.4" stroke="#000" stroke-opacity="0.13" stroke-width="1.2"/>
<circle cx="367.8" cy="792.98" r="2.9" fill="#2a4c8c"/>
<path d="M364.9 792.98H370.7" stroke="#000" stroke-opacity="0.13" stroke-width="1.2"/>
<circle cx="368.9" cy="801.42" r="2.9" fill="#2a4c8c"/>
<path d="M366.0 801.42H371.8" stroke="#000" stroke-opacity="0.13" stroke-width="1.2"/>
<circle cx="369.9" cy="809.85" r="2.9" fill="#2a4c8c"/>
<path d="M367.0 809.85H372.8" stroke="#000" stroke-opacity="0.13" stroke-width="1.2"/>
<circle cx="369.9" cy="818.29" r="2.9" fill="#2a4c8c"/>
<path d="M367.0 818.29H372.8" stroke="#000" stroke-opacity="0.13" stroke-width="1.2"/>
<circle cx="370.9" cy="826.73" r="2.9" fill="#2a4c8c"/>
<path d="M368.0 826.73H373.8" stroke="#000" stroke-opacity="0.13" stroke-width="1.2"/>
<circle cx="373.1" cy="835.17" r="2.9" fill="#2a4c8c"/>
<path d="M370.2 835.17H376.0" stroke="#000" stroke-opacity="0.13" stroke-width="1.2"/>
<circle cx="374.2" cy="843.61" r="2.9" fill="#2a4c8c"/>
<path d="M371.3 843.61H377.1" stroke="#000" stroke-opacity="0.13" stroke-width="1.2"/>
<circle cx="375.0" cy="852.04" r="2.9" fill="#2a4c8c"/>
<path d="M372.1 852.04H377.9" stroke="#000" stroke-opacity="0.13" stroke-width="1.2"/>
<circle cx="376.9" cy="860.48" r="2.9" fill="#2a4c8c"/>
<path d="M374.0 860.48H379.8" stroke="#000" stroke-opacity="0.13" stroke-width="1.2"/>
<circle cx="376.9" cy="868.92" r="2.9" fill="#2a4c8c"/>
<path d="M374.0 868.92H379.8" stroke="#000" stroke-opacity="0.13" stroke-width="1.2"/>
<circle cx="378.5" cy="877.36" r="2.9" fill="#2a4c8c"/>
<path d="M375.6 877.36H381.4" stroke="#000" stroke-opacity="0.13" stroke-width="1.2"/>
<circle cx="384.4" cy="885.80" r="2.9" fill="#2a4c8c"/>
<path d="M381.5 885.80H387.3" stroke="#000" stroke-opacity="0.13" stroke-width="1.2"/>
<circle cx="390.3" cy="894.23" r="2.9" fill="#a60a2e"/>
<path d="M387.4 894.23H393.2" stroke="#000" stroke-opacity="0.13" stroke-width="1.2"/>
<circle cx="391.7" cy="902.67" r="2.9" fill="#2a4c8c"/>
<path d="M388.8 902.67H394.6" stroke="#000" stroke-opacity="0.13" stroke-width="1.2"/>
<circle cx="391.8" cy="911.11" r="2.9" fill="#2a4c8c"/>
<path d="M388.9 911.11H394.7" stroke="#000" stroke-opacity="0.13" stroke-width="1.2"/>
<circle cx="405.3" cy="919.55" r="2.9" fill="#a60a2e"/>
<path d="M402.4 919.55H408.2" stroke="#000" stroke-opacity="0.13" stroke-width="1.2"/>
<circle cx="418.6" cy="927.99" r="2.9" fill="#a60a2e"/>
<path d="M415.7 927.99H421.5" stroke="#000" stroke-opacity="0.13" stroke-width="1.2"/>
</svg>
</body></html>
